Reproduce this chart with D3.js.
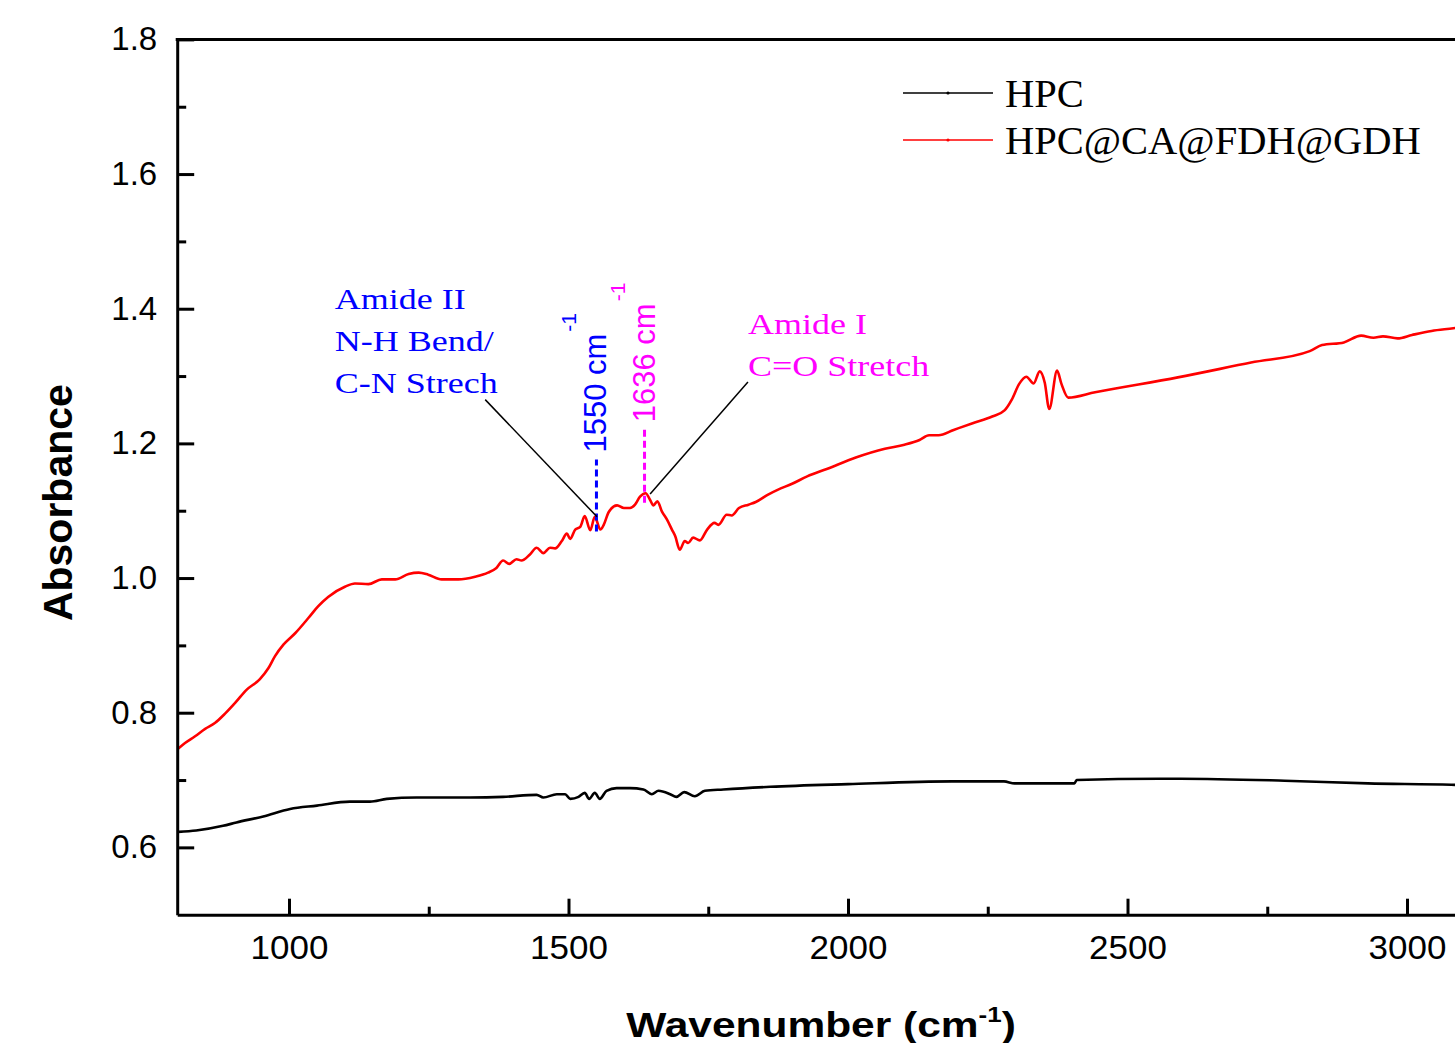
<!DOCTYPE html>
<html>
<head>
<meta charset="utf-8">
<script src="https://cdn.jsdelivr.net/npm/d3@7"></script>
<style>
  body { margin: 0; background: #fff; }
  svg { display: block; }
</style>
</head>
<body>
<svg id="chart" width="1455" height="1043"></svg>
<script>
// HPC (black)
const wnHPC = [802,834,882,906,954,1002,1050,1109,1145,1175,
    1228,1324,1383,1443,1455,1479,1494,1503,1518,1529,
    1537,1547,1556,1568,1586,1610,1634,1649,1661,1682,
    1693,1707,1726,1744,1777,1861,2000,2186,2279,2298,
    2405,2409,2558,2595,2781,2930,3079,3100];
const absHPC = [0.623,0.625,0.632,0.637,0.646,0.657,0.662,0.668,0.668,0.672,
    0.674,0.674,0.675,0.678,0.674,0.679,0.679,0.672,0.675,0.681,
    0.672,0.681,0.672,0.684,0.688,0.688,0.686,0.679,0.684,0.679,
    0.675,0.682,0.676,0.684,0.686,0.690,0.694,0.698,0.698,0.695,
    0.695,0.700,0.702,0.702,0.699,0.695,0.693,0.692];

// HPC@CA@FDH@GDH (red)
const wnComposite = [801,814,832,850,868,886,904,924,948,963,
    975,990,1011,1035,1052,1070,1100,1118,1142,1166,
    1190,1214,1232,1249,1273,1303,1333,1356,1371,1383,
    1394,1407,1416,1431,1443,1455,1467,1476,1488,1497,
    1503,1512,1521,1529,1539,1547,1557,1563,1572,1587,
    1599,1610,1619,1628,1638,1646,1652,1659,1667,1676,
    1685,1691,1699,1708,1714,1723,1735,1748,1761,1768,
    1783,1792,1805,1822,1835,1857,1874,1900,1927,1962,
    2014,2066,2101,2128,2145,2162,2189,2223,2258,2280,
    2293,2306,2319,2332,2343,2352,2360,2374,2382,2394,
    2442,2590,2721,2826,2848,2887,2918,2940,2957,2983,
    3009,3044,3083,3100];
const absComposite = [0.746,0.755,0.765,0.776,0.785,0.799,0.815,0.834,0.850,0.866,
    0.884,0.901,0.918,0.941,0.958,0.972,0.987,0.992,0.991,0.998,
    0.998,1.006,1.008,1.005,0.998,0.998,1.002,1.008,1.015,1.026,
    1.021,1.028,1.026,1.035,1.045,1.037,1.045,1.044,1.055,1.066,
    1.058,1.072,1.076,1.092,1.071,1.091,1.072,1.079,1.098,1.108,
    1.104,1.104,1.109,1.121,1.126,1.116,1.108,1.114,1.099,1.087,
    1.072,1.062,1.042,1.055,1.052,1.060,1.056,1.072,1.082,1.079,
    1.094,1.093,1.104,1.109,1.113,1.124,1.131,1.140,1.151,1.162,
    1.179,1.192,1.198,1.205,1.212,1.212,1.220,1.230,1.240,1.249,
    1.265,1.288,1.299,1.289,1.307,1.290,1.251,1.308,1.288,1.268,
    1.276,1.298,1.320,1.337,1.346,1.350,1.360,1.357,1.359,1.356,
    1.361,1.367,1.371,1.373];

const seriesNames = ["HPC", "HPC@CA@FDH@GDH"];
const seriesColors = ["#000000", "#ff0000"];

const xTicks = [1000, 1500, 2000, 2500, 3000];
const xMinorTicks = [1250, 1750, 2250, 2750];
const yTicks = [0.6, 0.8, 1.0, 1.2, 1.4, 1.6, 1.8];
const yMinorTicks = [0.7, 0.9, 1.1, 1.3, 1.5, 1.7];

// marked peaks: wavenumber, dashed line from/to absorbance
const peakWn = [1550, 1636];
const peakFrom = [1.069, 1.112];
const peakTo = [1.176, 1.221];
const peakLabels = ["1550 cm", "1636 cm"];
const peakColors = ["#0000ff", "#ff00ff"];

const svg = d3.select("#chart");
const margin = { top: 39.4, left: 177.2, bottom: 128.3 };
const width = 1455, height = 1043;

const x = d3.scaleLinear().domain([800, 3100]).range([margin.left, margin.left + 2300 * 0.559]);
const y = d3.scaleLinear().domain([0.5, 1.8]).range([height - margin.bottom, margin.top]);

const sans = "'Liberation Sans', Arial, sans-serif";
const serif = "'Liberation Serif', 'Times New Roman', serif";

// curves
const line = d3.line().x(d => x(d[0])).y(d => y(d[1])).curve(d3.curveMonotoneX);
const series = [
    { name: seriesNames[0], color: seriesColors[0], pts: d3.zip(wnHPC, absHPC) },
    { name: seriesNames[1], color: seriesColors[1], pts: d3.zip(wnComposite, absComposite) }
];
svg.append("g").selectAll("path")
    .data(series)
    .enter().append("path")
    .attr("d", d => line(d.pts))
    .attr("fill", "none")
    .attr("stroke", d => d.color)
    .attr("stroke-width", 2.6)
    .attr("stroke-linejoin", "round");

// axes
svg.append("g")
    .attr("transform", `translate(${margin.left},0)`)
    .call(d3.axisLeft(y).tickValues(yTicks).tickFormat(d3.format(".1f"))
        .tickSizeInner(-17).tickSizeOuter(0).tickPadding(20));
svg.append("g")
    .attr("transform", `translate(${margin.left},0)`)
    .call(d3.axisLeft(y).tickValues(yMinorTicks).tickFormat("").tickSizeInner(-9).tickSizeOuter(0))
    .call(g => g.select(".domain").remove());

svg.append("g")
    .attr("transform", `translate(0,${y(0.5)})`)
    .call(d3.axisBottom(x).tickValues(xTicks).tickFormat(d3.format("d"))
        .tickSizeInner(-16).tickSizeOuter(0).tickPadding(21));
svg.append("g")
    .attr("transform", `translate(0,${y(0.5)})`)
    .call(d3.axisBottom(x).tickValues(xMinorTicks).tickFormat("").tickSizeInner(-8).tickSizeOuter(0))
    .call(g => g.select(".domain").remove());

svg.selectAll(".tick line").attr("stroke", "#000").attr("stroke-width", 3);
svg.selectAll(".domain").attr("stroke", "#000").attr("stroke-width", 3);
svg.selectAll(".tick text").attr("font-family", sans).attr("font-size", 33).attr("fill", "#000");
svg.selectAll(".tick text").filter(d => xTicks.includes(d))
    .attr("transform", "scale(1.06,1)");

// top frame
svg.append("line")
    .attr("x1", margin.left - 1.5).attr("x2", x(3100))
    .attr("y1", y(1.8)).attr("y2", y(1.8))
    .attr("stroke", "#000").attr("stroke-width", 3);

// axis titles
svg.append("text")
    .attr("transform", `translate(72,${y(1.112)}) rotate(-90)`)
    .attr("text-anchor", "middle")
    .attr("font-family", sans).attr("font-weight", "bold").attr("font-size", 41)
    .text("Absorbance");

const xt = svg.append("text")
    .attr("transform", `translate(821,1037) scale(1.18,1)`)
    .attr("text-anchor", "middle")
    .attr("font-family", sans).attr("font-weight", "bold").attr("font-size", 36);
xt.append("tspan").text("Wavenumber (cm");
xt.append("tspan").attr("font-size", 22).attr("dy", -15).text("-1");
xt.append("tspan").attr("dy", 15).text(")");

// legend
const legend = svg.append("g");
series.forEach((s, i) => {
    const ly = 93 + i * 47;
    legend.append("line").attr("x1", 903).attr("x2", 993).attr("y1", ly).attr("y2", ly)
        .attr("stroke", s.color).attr("stroke-width", 1.6);
    legend.append("circle").attr("cx", 948).attr("cy", ly).attr("r", 1.6).attr("fill", s.color);
    legend.append("text").attr("x", 1005).attr("y", ly).attr("dy", "0.35em")
        .attr("font-family", serif).attr("font-size", 40.5).attr("fill", "#000")
        .text(s.name);
});

// peak markers
peakWn.forEach((wn, i) => {
    svg.append("line")
        .attr("x1", x(wn)).attr("x2", x(wn))
        .attr("y1", y(peakFrom[i])).attr("y2", y(peakTo[i]))
        .attr("stroke", peakColors[i]).attr("stroke-width", 3)
        .attr("stroke-dasharray", "7,4");
    const t = svg.append("text")
        .attr("transform", `translate(${x(wn) + 10},${y(peakTo[i]) - 7}) rotate(-90)`)
        .attr("font-family", sans).attr("font-size", 31).attr("fill", peakColors[i]);
    t.append("tspan").text(peakLabels[i]);
    t.append("tspan").attr("font-size", 21).attr("dy", -30).attr("dx", 2).text("-1");
});

// leader lines (in data units)
const leaders = [
    [[1351, 1.265], [1551, 1.091]],
    [[1646, 1.125], [1821, 1.291]]
];
svg.append("g").selectAll("line")
    .data(leaders)
    .enter().append("line")
    .attr("x1", d => x(d[0][0])).attr("y1", d => y(d[0][1]))
    .attr("x2", d => x(d[1][0])).attr("y2", d => y(d[1][1]))
    .attr("stroke", "#000").attr("stroke-width", 1.5);

// annotation labels (slightly wide, like the source)
const amide2 = ["Amide II", "N-H Bend/", "C-N Strech"];
const amide1 = ["Amide I", "C=O Stretch"];
amide2.forEach((s, i) => {
    svg.append("text")
        .attr("transform", `translate(${x(1082)},${309 + i * 42}) scale(1.2,1)`)
        .attr("font-family", serif).attr("font-size", 30).attr("fill", "#0000ff").text(s);
});
amide1.forEach((s, i) => {
    svg.append("text")
        .attr("transform", `translate(${x(1821)},${334 + i * 42}) scale(1.2,1)`)
        .attr("font-family", serif).attr("font-size", 30).attr("fill", "#ff00ff").text(s);
});
</script>
</body>
</html>
